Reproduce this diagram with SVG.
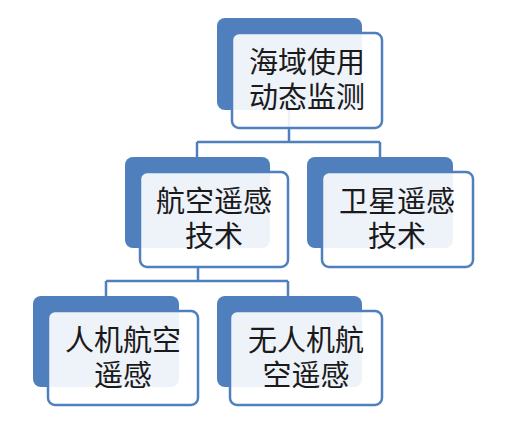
<svg xmlns="http://www.w3.org/2000/svg" width="507" height="424" viewBox="0 0 507 424">
<style>
.back{fill:#4f7fbd;}
.front{fill:#ffffff;fill-opacity:0.9;stroke:#4f7fbd;stroke-width:2.5;}
.t{font-family:"Noto Sans CJK SC","Noto Sans",sans-serif;font-size:29px;fill:#1a1a1a;text-anchor:middle;}
.c{fill:none;stroke:#4f7fbd;stroke-width:2.5;}
</style>
<rect width="507" height="424" fill="#ffffff"/>
<g id="connectors">
<path class="c" d="M289,110 V142 M197,142 H380 M197,142 V157 M380,142 V157"/>
<path class="c" d="M198,267 V281 M106,281 H288 M106,281 V296 M288,281 V296"/>
</g>
<g id="n0">
<rect class="back" x="217" y="18" width="145" height="92" rx="8"/>
<rect class="front" x="232" y="33" width="150" height="95" rx="7"/>
<text class="t"><tspan x="307" y="73">海域使用</tspan><tspan x="307" y="108">动态监测</tspan></text>
</g>
<g id="n1">
<rect class="back" x="125" y="157" width="145" height="91" rx="8"/>
<rect class="front" x="140" y="172" width="148" height="95" rx="7"/>
<text class="t"><tspan x="214" y="212">航空遥感</tspan><tspan x="214" y="247">技术</tspan></text>
</g>
<g id="n2">
<rect class="back" x="307" y="157" width="146" height="91" rx="8"/>
<rect class="front" x="322" y="172" width="151" height="95" rx="7"/>
<text class="t"><tspan x="397" y="212">卫星遥感</tspan><tspan x="397" y="247">技术</tspan></text>
</g>
<g id="n3">
<rect class="back" x="33" y="296" width="146" height="91" rx="8"/>
<rect class="front" x="48" y="311" width="150" height="94" rx="7"/>
<text class="t"><tspan x="123" y="351">人机航空</tspan><tspan x="123" y="386">遥感</tspan></text>
</g>
<g id="n4">
<rect class="back" x="217" y="296" width="145" height="91" rx="8"/>
<rect class="front" x="230" y="311" width="152" height="94" rx="7"/>
<text class="t"><tspan x="306" y="351">无人机航</tspan><tspan x="306" y="386">空遥感</tspan></text>
</g>
</svg>
